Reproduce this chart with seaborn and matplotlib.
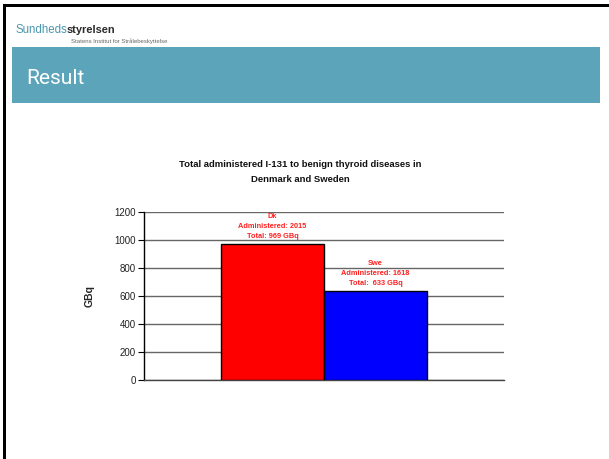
import matplotlib
matplotlib.use("Agg")
import matplotlib.pyplot as plt
import seaborn as sns
import pandas as pd
from matplotlib.patches import Rectangle

countries = ["Dk", "Swe"]
gbq_values = [969, 633]
administered = [2015, 1618]
bar_colors = ["#FF0000", "#0000FF"]
y_ticks = [0, 200, 400, 600, 800, 1000, 1200]
title = "Total administered I-131 to benign thyroid diseases in\nDenmark and Sweden"
ylabel = "GBq"

sns.set_style("white")
plt.rcParams['font.family'] = ['Liberation Sans', 'DejaVu Sans']

W, H = 609, 459
fig = plt.figure(figsize=(W / 100, H / 100), dpi=100)

def fx(px):
    return px / W

def fy(py):
    return 1 - py / H

def prect(x0, y0, x1, y1, color):
    fig.add_artist(Rectangle((fx(x0), fy(y1)), fx(x1) - fx(x0), fy(y0) - fy(y1),
                             facecolor=color, edgecolor="none", transform=fig.transFigure))

# slide frame (top and left borders)
prect(3, 4, 609, 7, "black")
prect(3, 4, 6, 459, "black")

# header banner
prect(12, 47, 600, 103, "#5BA4B9")
fig.text(fx(26), fy(84), "Result", color="white", fontsize=15, family=["Roboto", "DejaVu Sans"],
         va="baseline", ha="left")

# logo text
fig.text(fx(15), fy(33), "Sundheds", color="#4A97AE", fontsize=8.3, family=["Liberation Sans"],
         ha="left", va="baseline")
fig.text(fx(67), fy(33), "styrelsen", color="#2A2A2A", fontsize=7.9, family=["Liberation Sans"],
         fontweight="bold", ha="left", va="baseline")
fig.text(fx(71), fy(43.5), "Statens Institut for Strålebeskyttelse", color="#666666", fontsize=4.3,
         ha="left", va="baseline")

# chart
ax = fig.add_axes([fx(144), fy(380), fx(504) - fx(144), fy(212) - fy(380)])
df = pd.DataFrame({"country": countries, "gbq": gbq_values})
sns.barplot(data=df, x="country", y="gbq", hue="country", palette=bar_colors, saturation=1,
            width=1.0, edgecolor="black", linewidth=1.0, legend=False, ax=ax, zorder=3)
ax.set_xlim(-1.25, 2.25)
ax.set_ylim(0, 1200)
ax.set_yticks(y_ticks)
ax.set_yticklabels([str(v) for v in y_ticks], fontsize=7, color="#222222")
ax.set_xticks([])
ax.set_xlabel("")
ax.set_ylabel(ylabel, fontsize=7.5, fontweight="bold", labelpad=14)
ax.yaxis.grid(True, color="#666666", lw=1.0, zorder=0)
ax.set_axisbelow(True)
for s in ["top", "right"]:
    ax.spines[s].set_visible(False)
ax.spines["left"].set_color("black")
ax.spines["left"].set_linewidth(1.0)
ax.spines["bottom"].set_color("#444444")
ax.spines["bottom"].set_linewidth(1.0)
ax.tick_params(axis="y", left=True, length=4, width=0.8, color="black", pad=2)

for i, (c, v, a) in enumerate(zip(countries, gbq_values, administered)):
    sep = "  " if i == 1 else " "
    ax.text(i, v + 30, f"{c}\nAdministered: {a}\nTotal:{sep}{v} GBq", color="#FF2020",
            fontsize=5.3, fontweight="bold", ha="center", va="bottom", linespacing=1.6)

fig.text(fx(300), fy(172), title, ha="center", va="center", fontsize=6.8, fontweight="bold",
         color="#111111", linespacing=1.75)

fig.savefig("out.png", dpi=100)
